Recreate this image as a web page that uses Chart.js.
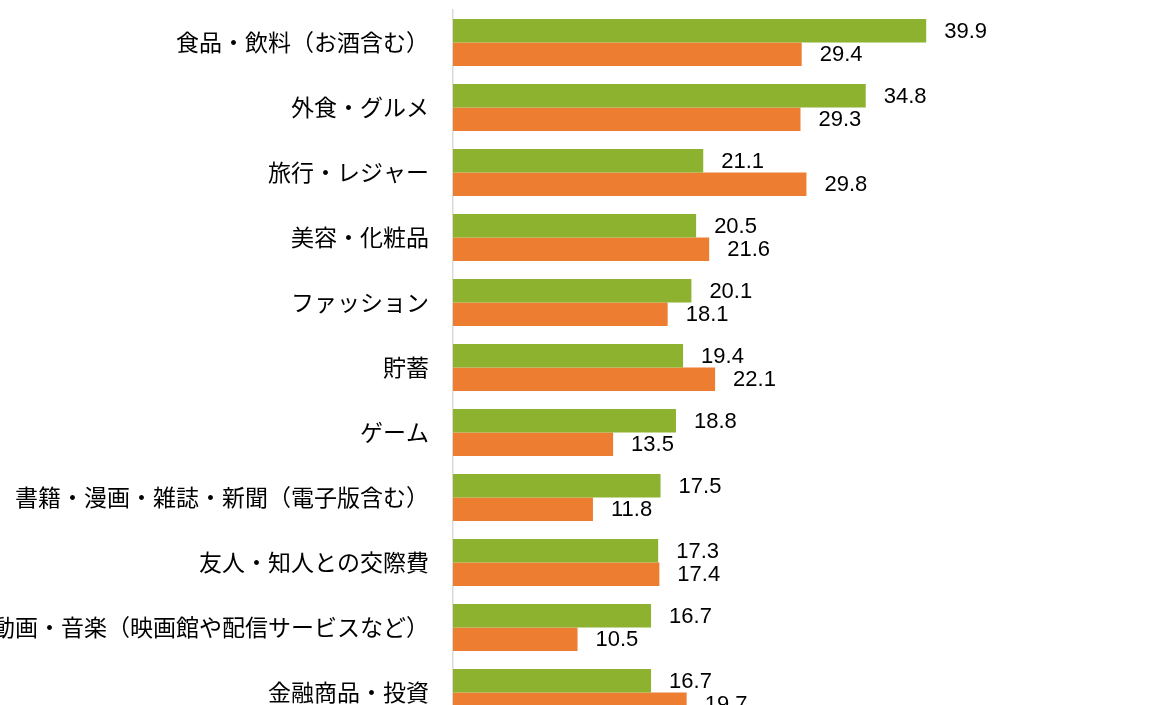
<!DOCTYPE html>
<html>
<head>
<meta charset="utf-8">
<script src="https://cdn.jsdelivr.net/npm/chart.js@4.4.1/dist/chart.umd.min.js"></script>
<style>
  html, body { margin: 0; padding: 0; background: #ffffff; overflow: hidden; }
  #wrap { position: relative; width: 1152px; height: 740px; }
</style>
</head>
<body>
<div id="wrap"><canvas id="c"></canvas></div>
<script>
const categories = [
  "食品・飲料（お酒含む）",
  "外食・グルメ",
  "旅行・レジャー",
  "美容・化粧品",
  "ファッション",
  "貯蓄",
  "ゲーム",
  "書籍・漫画・雑誌・新聞（電子版含む）",
  "友人・知人との交際費",
  "動画・音楽（映画館や配信サービスなど）",
  "金融商品・投資"
];
const seriesGreen = [39.9, 34.8, 21.1, 20.5, 20.1, 19.4, 18.8, 17.5, 17.3, 16.7, 16.7];
const seriesOrange = [29.4, 29.3, 29.8, 21.6, 18.1, 22.1, 13.5, 11.8, 17.4, 10.5, 19.7];
const seriesNames = ["系列1", "系列2"];

const valueLabels = {
  id: 'valueLabels',
  afterDatasetsDraw(chart) {
    const ctx = chart.ctx;
    ctx.save();
    ctx.font = '22px "Liberation Sans", Arial, sans-serif';
    ctx.fillStyle = '#000000';
    ctx.textAlign = 'left';
    ctx.textBaseline = 'middle';
    chart.data.datasets.forEach((ds, di) => {
      const meta = chart.getDatasetMeta(di);
      meta.data.forEach((el, i) => {
        ctx.fillText(ds.data[i].toFixed(1), el.x + 18, el.y + 1);
      });
    });
    ctx.restore();
  }
};

new Chart(document.getElementById('c'), {
  type: 'bar',
  data: {
    labels: categories,
    datasets: [
      { label: seriesNames[0], data: seriesGreen, backgroundColor: '#8DB230', borderWidth: 0,
        categoryPercentage: 0.72, barPercentage: 1.0 },
      { label: seriesNames[1], data: seriesOrange, backgroundColor: '#ED7D31', borderWidth: 0,
        categoryPercentage: 0.72, barPercentage: 1.0 }
    ]
  },
  options: {
    indexAxis: 'y',
    responsive: true,
    maintainAspectRatio: false,
    animation: false,
    layout: { padding: { top: 10, right: 106, bottom: 15, left: 0 } },
    plugins: { legend: { display: false }, tooltip: { enabled: false } },
    scales: {
      x: { display: false, min: 0, max: 50 },
      y: {
        grid: { display: false, drawTicks: false },
        border: { display: true, color: '#D9D9D9', width: 1.5 },
        ticks: {
          color: '#000000',
          padding: 24,
          font: { family: '"Noto Sans CJK JP", sans-serif', size: 23 }
        },
        afterFit(scale) {
          scale.width = 453;
          scale.paddingTop = 0;
          scale.paddingBottom = 0;
        }
      }
    }
  },
  plugins: [valueLabels]
});
</script>
</body>
</html>
